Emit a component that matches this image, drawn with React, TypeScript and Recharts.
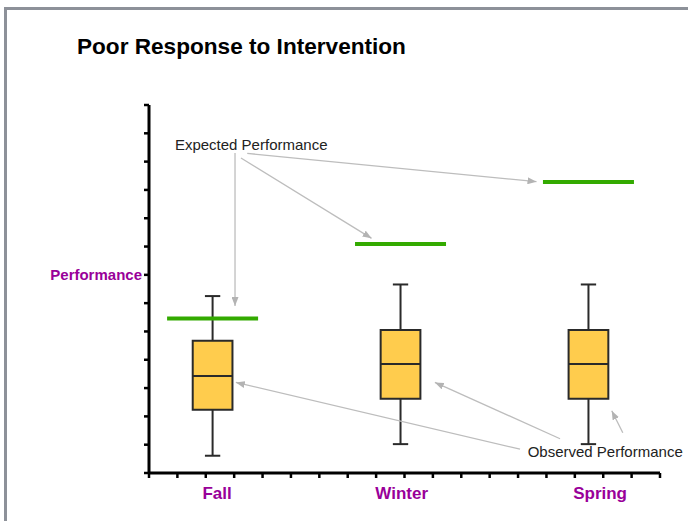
import React from "react";
import {
  ComposedChart,
  XAxis,
  YAxis,
  Scatter,
  ReferenceArea,
  ReferenceLine,
  ReferenceDot,
} from "recharts";

const categories = ["Fall", "Winter", "Spring"];
const boxCenters = [2.24, 8.86, 15.48];
const labelPositions = [2.4, 8.9, 15.89];
const lows = [0.61, 1.02, 1.02];
const q1s = [2.23, 2.62, 2.62];
const medians = [3.43, 3.85, 3.85];
const q3s = [4.67, 5.05, 5.05];
const highs = [6.25, 6.66, 6.66];
const expected = [5.46, 8.09, 10.28];

const xTicks = [0, 1, 2, 3, 4, 5, 6, 7, 8, 9, 10, 11, 12, 13, 14, 15, 16, 17, 18];
const yTicks = [0, 1, 2, 3, 4, 5, 6, 7, 8, 9, 10, 11, 12, 13];
const yTickLabels: Record<number, string> = { 7: "Performance" };

const expectedNote = { text: "Expected Performance", x: 3.6, y: 11.61 };
const expectedArrows = [
  [3.03, 11.3, 3.03, 5.9],
  [3.24, 11.13, 7.84, 8.29],
  [3.46, 11.29, 13.65, 10.29],
];
const observedNote = { text: "Observed Performance", x: 16.07, y: 0.75 };
const observedArrows = [
  [13.07, 0.84, 3.06, 3.2],
  [14.48, 1.21, 10.07, 3.2],
  [16.69, 1.42, 16.3, 2.2],
];

const FONT = "'Liberation Sans', Arial, sans-serif";
const PURPLE = "#990099";
const BOX_HALF = 0.7;
const CAP_HALF = 0.27;

const expectedData = categories.map((c, i) => ({ name: c, x: boxCenters[i], y: expected[i] }));

function ExpectedMark(props: any) {
  const { cx, cy } = props;
  return <line x1={cx - 45.5} x2={cx + 45.5} y1={cy} y2={cy} stroke="#33aa00" strokeWidth={4} />;
}

function XTick(props: any) {
  const { x, y, payload } = props;
  const v = payload.value;
  if (Number.isInteger(v)) {
    return <line x1={x} x2={x} y1={y} y2={y + 5} stroke="#000" strokeWidth={2.5} />;
  }
  const idx = labelPositions.indexOf(v);
  return (
    <text x={x} y={y + 26} textAnchor="middle" fill={PURPLE} fontSize={17} fontWeight="bold" fontFamily={FONT}>
      {categories[idx]}
    </text>
  );
}

export default function App() {
  return (
    <div style={{ position: "absolute", left: 0, top: 0, width: 688, height: 521, overflow: "hidden", background: "#fff" }}>
      <div
        style={{
          position: "absolute",
          left: 4,
          top: 7,
          width: 720,
          height: 600,
          borderTop: "3px solid #8d9199",
          borderLeft: "3px solid #8d9199",
        }}
      />
      <svg width={0} height={0} style={{ position: "absolute" }}>
        <defs>
          <marker id="arrowGray" markerUnits="userSpaceOnUse" markerWidth={9} markerHeight={7} refX={9} refY={3.5} orient="auto">
            <path d="M0,0 L9,3.5 L0,7 z" fill="#b3b3b3" />
          </marker>
        </defs>
      </svg>
      <div
        style={{
          position: "absolute",
          left: 77,
          top: 34,
          fontFamily: FONT,
          fontWeight: "bold",
          fontSize: 22.6,
          lineHeight: "26px",
          color: "#000",
          whiteSpace: "nowrap",
        }}
      >
        Poor Response to Intervention
      </div>
      <div style={{ position: "absolute", left: 0, top: 0 }}>
        <ComposedChart width={688} height={521} margin={{ top: 105, right: 28, bottom: 0, left: 0 }}>
          <XAxis
            dataKey="x"
            type="number"
            domain={[0, 18]}
            ticks={[...xTicks, ...labelPositions]}
            interval={0}
            height={48}
            tickSize={0}
            tickMargin={0}
            tickLine={false}
            axisLine={{ stroke: "#000", strokeWidth: 3 }}
            tick={<XTick />}
            allowDataOverflow
          />
          <YAxis
            dataKey="y"
            type="number"
            domain={[0, 13]}
            ticks={yTicks}
            interval={0}
            width={149}
            tickSize={5}
            tickMargin={2}
            tickLine={{ stroke: "#000", strokeWidth: 2.5 }}
            axisLine={{ stroke: "#000", strokeWidth: 3 }}
            tickFormatter={(v: number) => yTickLabels[v] || ""}
            tick={{ fill: PURPLE, fontSize: 15, fontWeight: "bold", fontFamily: FONT }}
            allowDataOverflow
          />
          <Scatter data={expectedData} dataKey="y" shape={<ExpectedMark />} isAnimationActive={false} />
          {categories.map((c, i) => (
            <ReferenceLine
              key={"wu" + c}
              segment={[{ x: boxCenters[i], y: q3s[i] }, { x: boxCenters[i], y: highs[i] }]}
              stroke="#2a2a2a"
              strokeWidth={2}
            />
          ))}
          {categories.map((c, i) => (
            <ReferenceLine
              key={"wl" + c}
              segment={[{ x: boxCenters[i], y: q1s[i] }, { x: boxCenters[i], y: lows[i] }]}
              stroke="#2a2a2a"
              strokeWidth={2}
            />
          ))}
          {categories.map((c, i) => (
            <ReferenceLine
              key={"ch" + c}
              segment={[{ x: boxCenters[i] - CAP_HALF, y: highs[i] }, { x: boxCenters[i] + CAP_HALF, y: highs[i] }]}
              stroke="#2a2a2a"
              strokeWidth={2}
            />
          ))}
          {categories.map((c, i) => (
            <ReferenceLine
              key={"cl" + c}
              segment={[{ x: boxCenters[i] - CAP_HALF, y: lows[i] }, { x: boxCenters[i] + CAP_HALF, y: lows[i] }]}
              stroke="#2a2a2a"
              strokeWidth={2}
            />
          ))}
          {categories.map((c, i) => (
            <ReferenceArea
              key={"b" + c}
              x1={boxCenters[i] - BOX_HALF}
              x2={boxCenters[i] + BOX_HALF}
              y1={q1s[i]}
              y2={q3s[i]}
              fill="#ffcc4d"
              fillOpacity={1}
              stroke="#2a2a2a"
              strokeWidth={2}
            />
          ))}
          {categories.map((c, i) => (
            <ReferenceLine
              key={"m" + c}
              segment={[{ x: boxCenters[i] - BOX_HALF, y: medians[i] }, { x: boxCenters[i] + BOX_HALF, y: medians[i] }]}
              stroke="#2a2a2a"
              strokeWidth={2}
            />
          ))}
          {[...expectedArrows, ...observedArrows].map((a, i) => (
            <ReferenceLine
              key={"a" + i}
              segment={[{ x: a[0], y: a[1] }, { x: a[2], y: a[3] }]}
              stroke="#bdbdbd"
              strokeWidth={1.3}
              markerEnd="url(#arrowGray)"
            />
          ))}
          {[expectedNote, observedNote].map((n) => (
            <ReferenceDot
              key={n.text}
              x={n.x}
              y={n.y}
              r={1}
              fill="transparent"
              stroke="none"
              label={{ value: n.text, position: "center", fill: "#222", fontSize: 15, fontFamily: FONT }}
            />
          ))}
        </ComposedChart>
      </div>
    </div>
  );
}
